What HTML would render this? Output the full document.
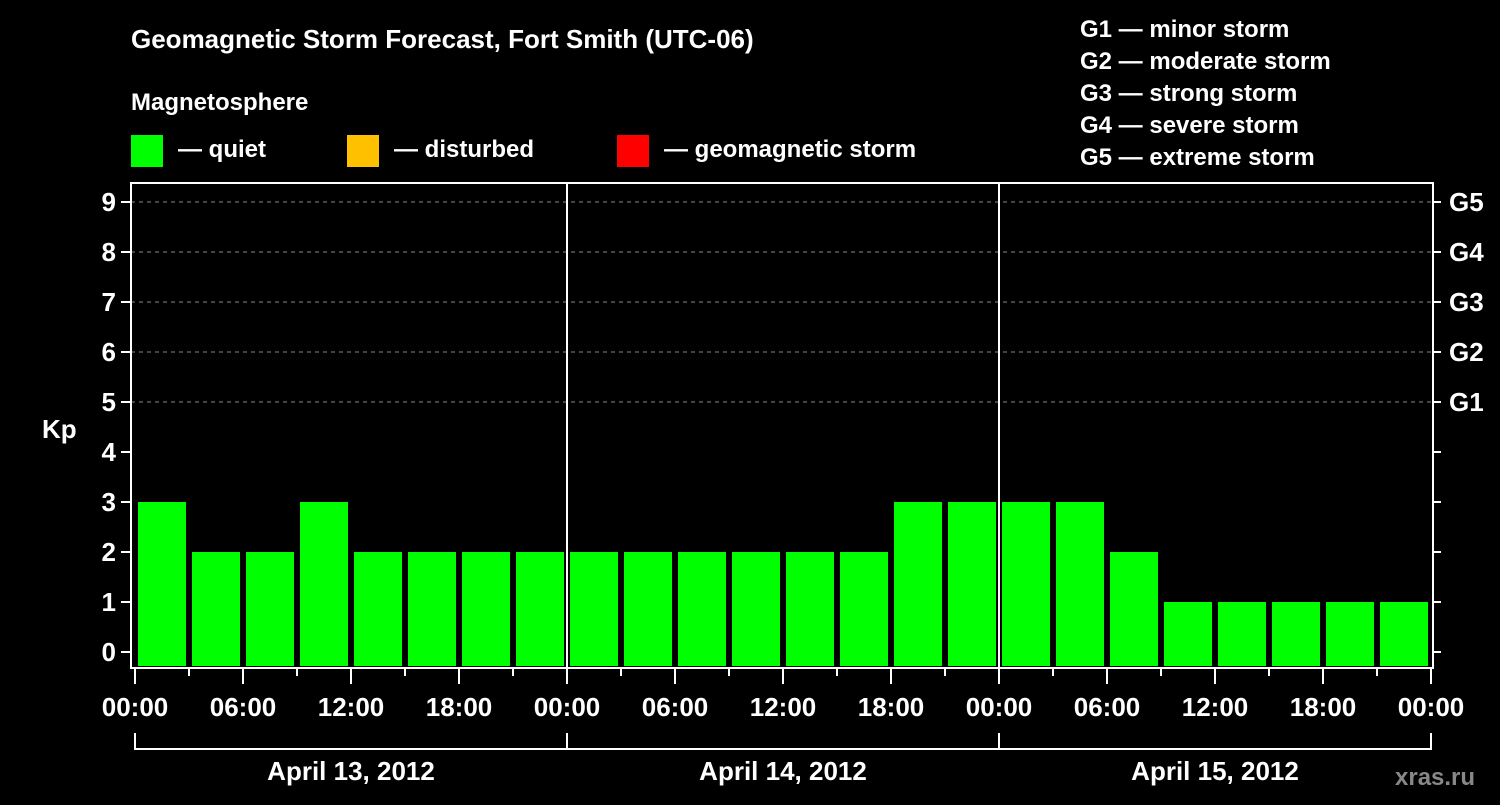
<!DOCTYPE html>
<html><head><meta charset="utf-8"><style>
body{margin:0;background:#000;width:1500px;height:800px;overflow:hidden}
svg text{font-family:"Liberation Sans",sans-serif;font-weight:bold;fill:#fff}
</style></head><body>
<svg id="c" width="1500" height="800">
<text x="131" y="48" font-size="26">Geomagnetic Storm Forecast, Fort Smith (UTC-06)</text>
<text x="131" y="110" font-size="24">Magnetosphere</text>
<g><rect x="131" y="135" width="32" height="32" fill="#00ff00"/><text x="178" y="157" font-size="24">— quiet</text></g>
<g><rect x="347" y="135" width="32" height="32" fill="#ffc000"/><text x="394" y="157" font-size="24">— disturbed</text></g>
<g><rect x="617" y="135" width="32" height="32" fill="#ff0000"/><text x="664" y="157" font-size="24">— geomagnetic storm</text></g>
<g font-size="24">
<text x="1080" y="37">G1 — minor storm</text><text x="1080" y="69">G2 — moderate storm</text><text x="1080" y="101">G3 — strong storm</text><text x="1080" y="133">G4 — severe storm</text><text x="1080" y="165">G5 — extreme storm</text></g>
<text x="42" y="438" font-size="26">Kp</text>
<text x="1395" y="785" font-size="24" fill="#fff" style="fill:#888">xras.ru</text>
<g id="grid"></g><g id="bars"></g><g id="axes"></g>
</svg>
<script>
const kpValues=[3,2,2,3,2,2,2,2, 2,2,2,2,2,2,3,3, 3,3,2,1,1,1,1,1];
const yTicks=[0,1,2,3,4,5,6,7,8,9];
const gLabels=["G1","G2","G3","G4","G5"];
const hourLabels=["00:00","06:00","12:00","18:00"];
const dayLabels=["April 13, 2012","April 14, 2012","April 15, 2012"];
const NS="http://www.w3.org/2000/svg";
const X0=135,DAYW=432,Y0=652,UNIT=50,L=131,R=1433,T=183,B=668;
const xs=h=>X0+h*DAYW/24;
const ys=v=>Y0-v*UNIT;
function mk(t,a,p){const e=document.createElementNS(NS,t);for(const k in a)e.setAttribute(k,a[k]);p.appendChild(e);return e;}
const grid=document.getElementById('grid'),bars=document.getElementById('bars'),axes=document.getElementById('axes');
yTicks.forEach(v=>{
 if(v>=5){const g=mk('line',{x1:L,x2:R,y1:ys(v),y2:ys(v),stroke:'#888','stroke-dasharray':'4,4','stroke-width':1},grid);
 
 }
 const t=mk('line',{x1:L-10,x2:L,y1:ys(v),y2:ys(v),stroke:'#fff','stroke-width':2},axes);
 
 
 const t2=mk('line',{x1:R,x2:R+8,y1:ys(v),y2:ys(v),stroke:'#fff','stroke-width':2},axes);
 
 
 const lb=mk('text',{x:L-15,y:ys(v)+9,'text-anchor':'end','font-size':26},axes);lb.textContent=v;
 
 
});
gLabels.forEach((g,i)=>{const lb=mk('text',{x:R+16,y:ys(5+i)+9,'font-size':26},axes);lb.textContent=g;
 
 });
kpValues.forEach((v,i)=>{const b=mk('rect',{x:xs(i*3)+3,y:ys(v),width:DAYW/8-6,height:B-ys(v)-2,fill:v>=5?'#ff0000':v>=4?'#ffc000':'#00ff00'},bars);
 
 });
mk('rect',{x:L,y:T,width:R-L,height:B-T,fill:'none',stroke:'#fff','stroke-width':2},axes);
for(let d=1;d<3;d++){const l=mk('line',{x1:xs(d*24),x2:xs(d*24),y1:T,y2:B,stroke:'#fff','stroke-width':2},axes);
 
 }
for(let h=0;h<=72;h+=3){const maj=h%6==0;const t=mk('line',{x1:xs(h),x2:xs(h),y1:B,y2:B+(maj?16:8),stroke:'#fff','stroke-width':2},axes);
 
 
 if(maj){const lb=mk('text',{x:xs(h),y:716,'text-anchor':'middle','font-size':26},axes);lb.textContent=hourLabels[(h/6)%4];
 
 }}
mk('line',{x1:xs(0),x2:xs(72),y1:749,y2:749,stroke:'#fff','stroke-width':2},axes);
for(let d=0;d<=3;d++)mk('line',{x1:xs(d*24),x2:xs(d*24),y1:733,y2:750,stroke:'#fff','stroke-width':2},axes);
dayLabels.forEach((s,d)=>{const lb=mk('text',{x:xs(d*24+12),y:780,'text-anchor':'middle','font-size':26},axes);lb.textContent=s;
 
 });
</script>
</body></html>
